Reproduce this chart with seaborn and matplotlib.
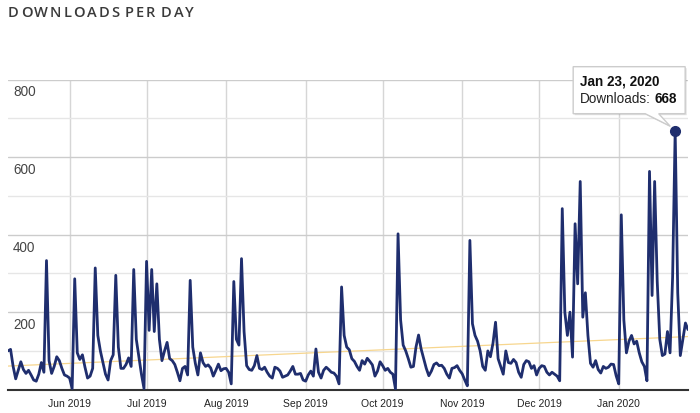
import matplotlib
matplotlib.use("Agg")
import matplotlib.dates as mdates
import matplotlib.patches as patches
import matplotlib.pyplot as plt
import matplotlib.transforms as mtransforms
import numpy as np
import pandas as pd
import seaborn as sns

TITLE = "DOWNLOADS PER DAY"
START_DATE = "2019-05-08"

# daily downloads, one list per calendar month
MAY_2019 = [100, 104, 60, 28, 50, 72, 52, 42, 50, 38, 25, 22, 40, 70, 45, 333,
            75, 42, 60, 85, 75, 55, 38, 35]
JUN_2019 = [30, 3, 286, 95, 78, 90, 58, 30, 35, 55, 314, 140, 100, 70, 40, 25,
            75, 90, 295, 110, 55, 55, 65, 82, 60, 310, 130, 85, 40, 3]
JUL_2019 = [331, 153, 310, 150, 273, 130, 75, 100, 122, 80, 75, 65, 45, 23, 55,
            60, 38, 282, 110, 68, 38, 95, 70, 60, 64, 56, 35, 50, 66, 49, 54]
AUG_2019 = [55, 45, 15, 279, 130, 115, 338, 150, 62, 52, 50, 62, 88, 55, 52, 58,
            45, 35, 30, 58, 55, 48, 32, 35, 38, 48, 60, 40, 40, 42, 25]
SEP_2019 = [22, 38, 48, 35, 105, 45, 30, 50, 58, 52, 45, 43, 35, 15, 265, 140,
            110, 103, 80, 73, 60, 50, 75, 66, 81, 73, 64, 35, 48, 72]
OCT_2019 = [62, 50, 55, 45, 40, 2, 402, 180, 115, 100, 80, 58, 60, 110, 141, 105,
            80, 55, 36, 48, 65, 69, 62, 63, 55, 40, 30, 55, 57, 62, 50]
NOV_2019 = [41, 25, 10, 385, 170, 140, 125, 100, 60, 50, 100, 85, 120, 174, 80,
            60, 40, 100, 70, 68, 78, 70, 45, 32, 65, 75, 72, 55, 62, 38]
DEC_2019 = [55, 62, 60, 45, 38, 45, 40, 35, 23, 467, 200, 140, 200, 84, 428, 273,
            537, 187, 250, 140, 68, 58, 75, 52, 43, 60, 55, 58, 66, 65, 36]
JAN_2020 = [15, 451, 180, 95, 125, 140, 118, 125, 95, 72, 60, 23, 563, 243, 537,
            280, 130, 88, 92, 150, 95, 290, 668, 250, 88, 130, 172, 155]

Y_TICKS = [200, 400, 600, 800]
TOOLTIP_LABEL = "Downloads:"

LINE_COLOR = "#1f2e6e"
TREND_COLOR = "#f7d68e"

W, H = 700, 414


def letter_spaced(ax, text, x_px, base_px, spacing, **kw):
    # matplotlib has no letter-spacing, so chain one glyph after the other
    prev = ax.annotate(text[0], xy=(x_px / W, 1 - base_px / H),
                       xycoords="figure fraction", va="baseline", **kw)
    gap = spacing
    for ch in text[1:]:
        if ch == " ":
            gap += 4
            continue
        prev = ax.annotate(ch, xy=(1, 0), xycoords=prev, xytext=(gap, 0),
                           textcoords="offset pixels", va="bottom", **kw)
        gap = spacing


def create_chart():
    downloads = (MAY_2019 + JUN_2019 + JUL_2019 + AUG_2019 + SEP_2019
                 + OCT_2019 + NOV_2019 + DEC_2019 + JAN_2020)
    dates = pd.date_range(START_DATE, periods=len(downloads), freq="D")
    df = pd.DataFrame({"date": dates, "downloads": downloads})

    sns.set_style("white")
    plt.rcParams["font.family"] = ["Liberation Sans", "DejaVu Sans"]

    fig = plt.figure(figsize=(W / 100, H / 100), dpi=100)
    ax = fig.add_axes([8 / W, 1 - 390.7 / H, 680 / W, (390.7 - 80.5) / H])

    sns.lineplot(data=df, x="date", y="downloads", ax=ax, color=LINE_COLOR,
                 linewidth=2.0, zorder=3, solid_joinstyle="round")

    # least squares trend line
    x_num = mdates.date2num(df["date"])
    slope, icpt = np.polyfit(x_num, df["downloads"], 1)
    ax.plot(df["date"], slope * x_num + icpt, color=TREND_COLOR, lw=0.9, zorder=2)

    peak_idx = df["downloads"].idxmax()
    peak_date = df.loc[peak_idx, "date"]
    peak_val = int(df.loc[peak_idx, "downloads"])
    ax.plot(peak_date, peak_val, "o", ms=7, color=LINE_COLOR, zorder=4)

    ax.set_xlim(dates[0], dates[-1])
    ax.set_ylim(0, 800)
    ax.set_xlabel("")
    ax.set_ylabel("")

    ax.xaxis.set_major_locator(mdates.MonthLocator())
    ax.xaxis.set_major_formatter(mdates.DateFormatter("%b %Y"))
    ax.tick_params(axis="x", length=0, labelsize=7.5, labelcolor="#222222", pad=6)
    ax.set_yticks([0] + Y_TICKS)
    ax.set_yticks([100, 300, 500, 700], minor=True)
    ax.tick_params(axis="y", which="both", length=0, labelleft=False)

    ax.grid(axis="x", color="#d6d6d6", lw=1)
    ax.grid(axis="y", which="major", color="#cccccc", lw=1)
    ax.grid(axis="y", which="minor", color="#e6e6e6", lw=1)
    ax.set_axisbelow(True)
    for side in ["top", "left", "right"]:
        ax.spines[side].set_visible(False)
    ax.spines["bottom"].set_color("#333333")
    ax.spines["bottom"].set_linewidth(1.5)

    # y labels sit inside the plot, just under their gridline
    for v in Y_TICKS:
        ax.annotate(f"{v}", xy=(0, v), xycoords=("axes fraction", "data"),
                    xytext=(5, -12), textcoords="offset pixels", fontsize=9.75,
                    color="#444444", ha="left", va="center")

    letter_spaced(ax, TITLE, 8, 16.7, 1.9, fontsize=10.5, color="#3a3a3a",
                  family="Open Sans", fontweight="semibold")

    # tooltip anchored to the peak point (display pixels)
    px, py = ax.transData.transform((mdates.date2num(peak_date), peak_val))
    ident = mtransforms.IdentityTransform()
    left, right, top, bottom = px - 102, px + 10, py + 64, py + 17
    outline = [(left, bottom), (px - 30, bottom), (px - 5, py + 4.5),
               (px - 16.5, bottom), (right, bottom), (right, top), (left, top)]
    shadow = patches.Polygon([(x + 1.5, y - 1.5) for x, y in outline], closed=True,
                             facecolor="#000000", alpha=0.12, edgecolor="none",
                             transform=ident)
    box = patches.Polygon(outline, closed=True, facecolor="white",
                          edgecolor="#cccccc", lw=1, transform=ident)
    fig.add_artist(shadow)
    fig.add_artist(box)

    date_txt = peak_date.strftime("%b %d, %Y").replace(" 0", " ")
    fig.text(px - 95, py + 50, date_txt, transform=ident, fontsize=9.75,
             fontweight="bold", color="#111111", va="center", ha="left")
    lab = fig.text(px - 95, py + 32.4, TOOLTIP_LABEL, transform=ident,
                   fontsize=9.75, color="#222222", va="center", ha="left")
    lab_w = lab.get_window_extent(fig.canvas.get_renderer()).width
    fig.text(px - 95 + lab_w + 3.2, py + 32.4, f"{peak_val}", transform=ident,
             fontsize=9.75, fontweight="bold", color="#111111",
             va="center", ha="left")

    fig.savefig("out.png", dpi=100)


if __name__ == "__main__":
    create_chart()
